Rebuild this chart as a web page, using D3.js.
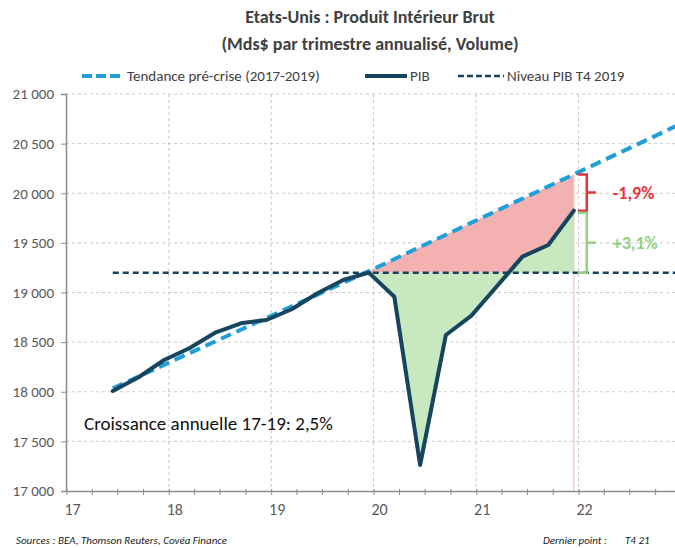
<!DOCTYPE html>
<html>
<head>
<meta charset="utf-8">
<script src="https://cdn.jsdelivr.net/npm/d3@7"></script>
<style>
  body { margin: 0; background: #fff; }
  svg { display: block; }
  text { font-family: "Carlito", "Liberation Sans Narrow", "Liberation Sans", sans-serif; }
</style>
</head>
<body>
<div id="chart"></div>
<script>
// quarterly points, 2017 Q2 -> 2021 Q4
const quarters = [
  "2017-06-15", "2017-09-15", "2017-12-15",
  "2018-03-15", "2018-06-15", "2018-09-15", "2018-12-15",
  "2019-03-15", "2019-06-15", "2019-09-15", "2019-12-15",
  "2020-03-15", "2020-06-15", "2020-09-15", "2020-12-15",
  "2021-03-15", "2021-06-15", "2021-09-15", "2021-12-15"
];
const pib = [
  18008, 18146, 18320,
  18438, 18595, 18690, 18723,
  18831, 18992, 19126, 19200,
  18958, 17262, 18572, 18767,
  19060, 19361, 19479, 19824
];
const trendDates = ["2017-06-15", "2019-12-15", "2021-12-15", "2023-01-01"];
const trendValues = [18035, 19215, 20190, 20700];
const levelT4 = 19200;
const yTicks = [17000, 17500, 18000, 18500, 19000, 19500, 20000, 20500, 21000];
const xYears = ["17", "18", "19", "20", "21", "22"];
const gapLabels = ["-1,9%", "+3,1%"];

const width = 675, height = 548;
const parse = d3.timeParse("%Y-%m-%d");

const svg = d3.select("#chart").append("svg")
  .attr("width", width).attr("height", height);

const x = d3.scaleTime()
  .domain([parse("2017-01-01"), parse("2023-01-01")])
  .range([66.5, 66.5 + 6 * 102.4]);
const y = d3.scaleLinear().domain([17000, 21000]).range([491, 94]);

const fr = d3.formatLocale({ decimal: ",", thousands: "\u00a0", grouping: [3], currency: ["", "$"] });
const fmt = fr.format(",d");

svg.append("defs").append("clipPath").attr("id", "plot")
  .append("rect").attr("x", 66).attr("y", 60).attr("width", width - 66).attr("height", 432);

// title
svg.append("text").attr("x", 370).attr("y", 23).attr("text-anchor", "middle")
  .attr("font-size", 18).attr("font-weight", "bold").attr("fill", "#404040")
  .text("Etats-Unis : Produit Intérieur Brut");
svg.append("text").attr("x", 370).attr("y", 50).attr("text-anchor", "middle")
  .attr("font-size", 18).attr("font-weight", "bold").attr("fill", "#404040")
  .text("(Mds$ par trimestre annualisé, Volume)");

// grid
const grid = svg.append("g").attr("stroke", "#c9c9c9").attr("stroke-dasharray", "3,3");
grid.selectAll("line.h").data(yTicks.slice(1)).join("line")
  .attr("x1", 66).attr("x2", width).attr("y1", d => y(d)).attr("y2", d => y(d));
grid.selectAll("line.v").data(d3.range(2018, 2023)).join("line")
  .attr("x1", d => x(new Date(d, 0, 1))).attr("x2", d => x(new Date(d, 0, 1)))
  .attr("y1", 94).attr("y2", 491);

// y axis
const yAxis = svg.append("g").attr("transform", "translate(66,0)")
  .call(d3.axisLeft(y).tickValues(yTicks).tickFormat(fmt).tickSize(5).tickPadding(7));
yAxis.select(".domain").attr("stroke", "#8c8c8c").attr("stroke-width", 1.5);
yAxis.selectAll(".tick line").attr("stroke", "#8c8c8c");
yAxis.selectAll("text").attr("fill", "#595959").attr("font-size", 15);

// x axis
const xAxis = svg.append("g").attr("transform", "translate(0,491)");
xAxis.call(d3.axisBottom(x).ticks(d3.timeMonth.every(3)).tickFormat("").tickSize(4).tickSizeOuter(0));
xAxis.select(".domain").attr("stroke", "#8c8c8c").attr("stroke-width", 1.5);
xAxis.selectAll(".tick line").attr("stroke", "#8c8c8c").attr("y1", -2);
xAxis.selectAll(".yr").data(xYears).join("text")
  .attr("x", d => x(new Date(2000 + (+d), 0, 1)) + 6).attr("y", 24)
  .attr("text-anchor", "middle").attr("fill", "#595959").attr("font-size", 16)
  .text(d => d);

const plot = svg.append("g").attr("clip-path", "url(#plot)");
const pts = quarters.map((d, i) => ({ date: parse(d), v: pib[i] }));
const trend = trendDates.map((d, i) => ({ date: parse(d), v: trendValues[i] }));
const lastDate = pts[pts.length - 1].date;
const crisisStart = parse("2019-12-15");

// shaded gaps
plot.append("path")
  .datum(trend.filter(d => d.date >= crisisStart && d.date <= lastDate))
  .attr("fill", "#f4b1b1")
  .attr("d", d3.area().x(d => x(d.date)).y0(y(levelT4)).y1(d => y(d.v)));
plot.append("path")
  .datum(pts.filter(d => d.date >= crisisStart))
  .attr("fill", "#c8e8c0")
  .attr("d", d3.area().x(d => x(d.date)).y0(y(levelT4)).y1(d => y(d.v)));
plot.append("line")
  .attr("x1", x(lastDate)).attr("x2", x(lastDate))
  .attr("y1", y(trendValues[2])).attr("y2", 491)
  .attr("stroke", "#f2c6b6").attr("stroke-width", 1.2);

// level line
plot.append("line")
  .attr("x1", x(pts[0].date)).attr("x2", width)
  .attr("y1", y(levelT4)).attr("y2", y(levelT4))
  .attr("stroke", "#17425e").attr("stroke-width", 2.5).attr("stroke-dasharray", "6,4");

// trend line
plot.append("path").datum(trend)
  .attr("fill", "none").attr("stroke", "#1e9fd9").attr("stroke-width", 4)
  .attr("stroke-dasharray", "11,6")
  .attr("d", d3.line().x(d => x(d.date)).y(d => y(d.v)));

// GDP line
plot.append("path").datum(pts)
  .attr("fill", "none").attr("stroke", "#17445f").attr("stroke-width", 4)
  .attr("stroke-linejoin", "round").attr("stroke-linecap", "round")
  .attr("d", d3.line().x(d => x(d.date)).y(d => y(d.v)));

// brackets
function bracket(v0, v1, color, label) {
  const bx = x(lastDate) + 4, mx = bx + 9;
  const a = y(v0), b = y(v1), m = (a + b) / 2;
  svg.append("path")
    .attr("d", `M${bx},${a}H${mx}V${b}H${bx}M${mx},${m}H${mx + 9}`)
    .attr("fill", "none").attr("stroke", color).attr("stroke-width", 2.5);
  svg.append("text").attr("x", mx + 26).attr("y", m + 6)
    .attr("font-size", 18).attr("font-weight", "bold").attr("fill", color)
    .text(label);
}
bracket(trendValues[2], pib[pib.length - 1], "#e5333d", gapLabels[0]);
bracket(pib[pib.length - 1] - 20, levelT4, "#93d07f", gapLabels[1]);

// annotation
svg.append("text").attr("x", 84).attr("y", 430).attr("font-size", 19).attr("fill", "#111")
  .text("Croissance annuelle 17-19: 2,5%");

// legend
const lg = svg.append("g").attr("font-size", 15).attr("fill", "#404040");
lg.append("line").attr("x1", 82).attr("x2", 124).attr("y1", 76).attr("y2", 76)
  .attr("stroke", "#1e9fd9").attr("stroke-width", 4).attr("stroke-dasharray", "10,4");
lg.append("text").attr("x", 127).attr("y", 81).text("Tendance pré-crise (2017-2019)");
lg.append("line").attr("x1", 365).attr("x2", 407).attr("y1", 76).attr("y2", 76)
  .attr("stroke", "#17445f").attr("stroke-width", 4);
lg.append("text").attr("x", 410).attr("y", 81).text("PIB");
lg.append("line").attr("x1", 458).attr("x2", 504).attr("y1", 76).attr("y2", 76)
  .attr("stroke", "#17425e").attr("stroke-width", 2.5).attr("stroke-dasharray", "6,3");
lg.append("text").attr("x", 507).attr("y", 81).text("Niveau PIB T4 2019");

// footer
const ft = svg.append("g").attr("font-size", 11).attr("font-style", "italic").attr("fill", "#222");
ft.append("text").attr("x", 16).attr("y", 544).text("Sources : BEA, Thomson Reuters, Covéa Finance");
ft.append("text").attr("x", 543).attr("y", 544).text("Dernier point :");
ft.append("text").attr("x", 625).attr("y", 544).text("T4 21");
</script>
</body>
</html>
